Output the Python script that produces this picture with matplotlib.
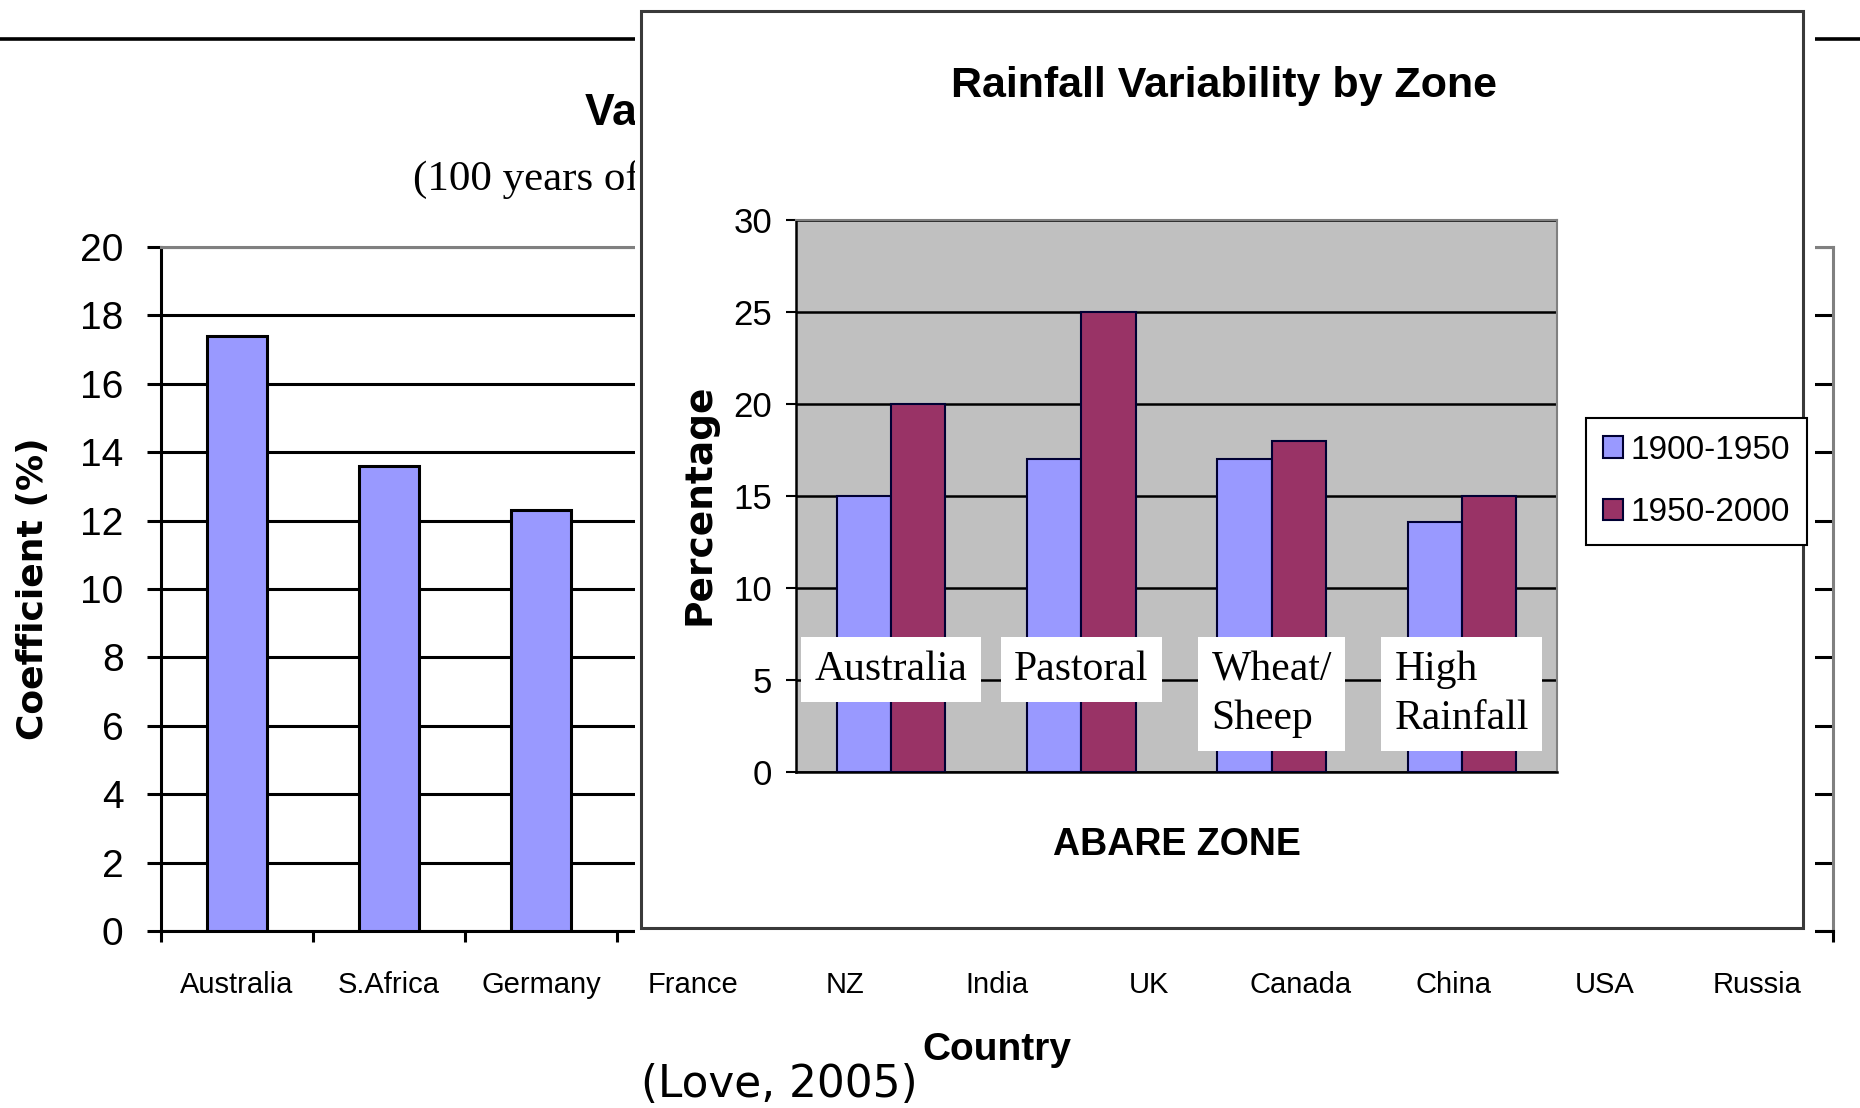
import matplotlib
matplotlib.use("Agg")
import matplotlib.pyplot as plt
from matplotlib import font_manager
from matplotlib.patches import Rectangle
from matplotlib.lines import Line2D
from matplotlib.transforms import Bbox, TransformedBbox
import numpy as np

# ---- background chart: coefficient of variation by country ----
countries = ["Australia", "S.Africa", "Germany", "France", "NZ", "India",
             "UK", "Canada", "China", "USA", "Russia"]
coef_values = [17.4, 13.6, 12.3]          # Australia, S.Africa, Germany
coef_ticks = list(range(0, 21, 2))

# ---- inset chart: rainfall variability by ABARE zone ----
zones = ["Australia", "Pastoral", "Wheat/\nSheep", "High\nRainfall"]
var_1900_1950 = [15, 17, 17, 13.6]
var_1950_2000 = [20, 25, 18, 15]
pct_ticks = list(range(0, 31, 5))
period_labels = ["1900-1950", "1950-2000"]

W, H, DPI = 1860, 1108, 100


def fx(px):
    return px / W


def fy(py):
    return 1 - py / H


installed = {f.name for f in font_manager.fontManager.ttflist}


def pick(*names):
    for n in names:
        if n in installed:
            return n
    return "DejaVu Sans"


SANS = pick("Liberation Sans", "Arial")
NARROW = pick("Liberation Sans Narrow", "Liberation Sans")
SERIF = pick("Liberation Serif", "DejaVu Serif")
WIDE = "DejaVu Sans"

fig = plt.figure(figsize=(W / DPI, H / DPI), dpi=DPI, facecolor="white")

# ---------------- background bar chart ----------------
ax = fig.add_axes([fx(161), fy(931), fx(1833) - fx(161), fy(247) - fy(931)])
x = np.arange(len(countries))
ax.bar(x[:len(coef_values)], coef_values, width=0.4, color="#9999FF",
       edgecolor="black", linewidth=2.2, zorder=3)
ax.set_xlim(-0.5, len(countries) - 0.5)
ax.set_ylim(0, 20)
ax.set_yticks(coef_ticks)
ax.set_yticklabels([str(t) for t in coef_ticks], fontsize=28, family=SANS)
ax.tick_params(axis="y", length=10, width=2.2, pad=17, direction="out")
ax.set_xticks(np.arange(-0.5, len(countries)))
ax.set_xticklabels([])
ax.set_xticks(x, minor=True)
ax.set_xticklabels(countries, minor=True, fontsize=21, family=NARROW)
ax.tick_params(axis="x", which="major", length=8, width=2.2)
ax.tick_params(axis="x", which="minor", length=0, pad=29)
ax.yaxis.grid(True, color="black", linewidth=2.2)
ax.set_axisbelow(True)
for s in ["left", "bottom"]:
    ax.spines[s].set(color="black", linewidth=2.2)
for s in ["top", "right"]:
    ax.spines[s].set(color="#808080", linewidth=2.2)
ax.set_ylabel("Coefficient (%)", fontsize=26, fontweight="bold", family=WIDE)
ax.yaxis.set_label_coords(-0.0664, 0.5)
ax.set_xlabel("Country", fontsize=28, fontweight="bold", family=SANS)
ax.xaxis.set_label_coords(0.5, -0.1477)

fig.add_artist(Line2D([0, 1], [fy(39), fy(39)], transform=fig.transFigure,
                      color="black", linewidth=2.6, zorder=1))

# heading of the background chart, only its left part shows beside the panel
left_area = TransformedBbox(Bbox([[0, 0], [fx(635), 1]]), fig.transFigure)
t1 = fig.text(fx(585), fy(125), "Variability of Annual Rainfall", ha="left",
              va="baseline", fontsize=32, fontweight="bold", family=SANS,
              zorder=1)
t2 = fig.text(fx(413), fy(190), "(100 years of data)", ha="left",
              va="baseline", fontsize=31, family=SERIF, zorder=1)
for t in (t1, t2):
    t.set_clip_box(left_area)
    t.set_clip_on(True)

fig.text(fx(641), fy(1097), "(Love, 2005)", ha="left", va="baseline",
         fontsize=31.5, family=WIDE, zorder=1)

# ---------------- inset panel ----------------
fig.add_artist(Rectangle((fx(635), fy(947)), fx(1815) - fx(635), fy(0) - fy(947),
                         transform=fig.transFigure, facecolor="white",
                         edgecolor="none", zorder=4))
fig.add_artist(Rectangle((fx(641), fy(928)), fx(1803) - fx(641), fy(11) - fy(928),
                         transform=fig.transFigure, facecolor="none",
                         edgecolor="#3a3a3a", linewidth=2.2, zorder=4.5))

ax2 = fig.add_axes([fx(796), fy(772), fx(1557) - fx(796), fy(220) - fy(772)])
ax2.set_zorder(5)
ax2.set_facecolor("#C0C0C0")
g = np.arange(len(zones))
bw = 0.285
ax2.bar(g - bw / 2, var_1900_1950, bw, color="#9999FF", edgecolor="#000033",
        linewidth=1.5, label=period_labels[0], zorder=3)
ax2.bar(g + bw / 2, var_1950_2000, bw, color="#993366", edgecolor="#000033",
        linewidth=1.5, label=period_labels[1], zorder=3)
ax2.set_xlim(-0.5, len(zones) - 0.5)
ax2.set_ylim(0, 30)
ax2.set_yticks(pct_ticks)
ax2.set_yticklabels([str(t) for t in pct_ticks], fontsize=25, family=NARROW)
ax2.tick_params(axis="y", length=7, width=1.5, pad=10, direction="out")
ax2.set_xticks([])
ax2.yaxis.grid(True, color="black", linewidth=1.8)
ax2.set_axisbelow(True)
for s in ["left", "bottom"]:
    ax2.spines[s].set(color="black", linewidth=1.8)
for s in ["top", "right"]:
    ax2.spines[s].set(color="#808080", linewidth=1.5)
ax2.set_ylabel("Percentage", fontsize=27, fontweight="bold", family=WIDE)
ax2.yaxis.set_label_coords(-0.1025, 0.4855)
ax2.set_xlabel("ABARE ZONE", fontsize=27, fontweight="bold", family=NARROW)
ax2.xaxis.set_label_coords(0.5, -0.0996)

for i, z in enumerate(zones):
    ax2.text(i, 6.6, z, ha="center", va="top", multialignment="left",
             family=SERIF, fontsize=30, linespacing=1.35, zorder=4,
             bbox=dict(boxstyle="square,pad=0.32", facecolor="white",
                       edgecolor="none"))

leg = ax2.legend(loc="upper left", bbox_to_anchor=(fx(1586), fy(418)),
                 bbox_transform=fig.transFigure,
                 prop=dict(family=NARROW, size=24), frameon=True,
                 fancybox=False, edgecolor="black", framealpha=1,
                 handlelength=0.62, handleheight=0.62, handletextpad=0.22,
                 labelspacing=0.95, borderpad=0.5, borderaxespad=0)
leg.get_frame().set_linewidth(1.5)

fig.text(fx(1224), fy(97), "Rainfall Variability by Zone", ha="center",
         va="baseline", fontsize=31, fontweight="bold", family=NARROW, zorder=6)

fig.savefig("out.png", dpi=DPI, facecolor="white")
